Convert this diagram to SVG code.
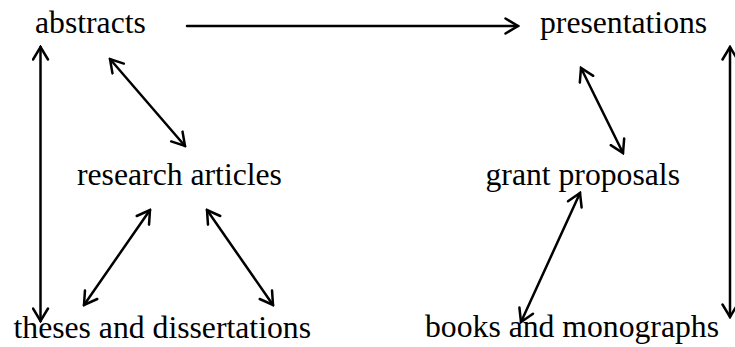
<svg xmlns="http://www.w3.org/2000/svg" width="735" height="347" viewBox="0 0 735 347">
  <style>
    .label { font-family: "Liberation Serif", "Times New Roman", serif; font-size: 31.7px; fill: #000; }
    .link { stroke: #000; stroke-width: 2.5; fill: none; stroke-linecap: round; }
  </style>
  <defs>
    <marker id="head" viewBox="-14 -9 16 18" refX="0" refY="0" markerWidth="16" markerHeight="18" markerUnits="userSpaceOnUse" orient="auto-start-reverse">
      <path d="M-12.5,-7.5 L0,0 L-12.5,7.5" fill="none" stroke="#000" stroke-width="2.5" stroke-linecap="round" stroke-linejoin="miter"/>
    </marker>
  </defs>
  <rect width="735" height="347" fill="#fff"/>

  <g id="connectors">
    <line class="link" x1="187" y1="26" x2="518" y2="26" marker-end="url(#head)"/>
    <line class="link" x1="40.5" y1="47" x2="40.5" y2="321" marker-start="url(#head)" marker-end="url(#head)"/>
    <line class="link" x1="110" y1="59" x2="185" y2="146" marker-start="url(#head)" marker-end="url(#head)"/>
    <line class="link" x1="150" y1="210" x2="84" y2="305" marker-start="url(#head)" marker-end="url(#head)"/>
    <line class="link" x1="207" y1="210" x2="273" y2="305" marker-start="url(#head)" marker-end="url(#head)"/>
    <line class="link" x1="581" y1="68" x2="623" y2="153" marker-start="url(#head)" marker-end="url(#head)"/>
    <line class="link" x1="580" y1="193" x2="521" y2="322" marker-start="url(#head)" marker-end="url(#head)"/>
    <line class="link" x1="730" y1="47" x2="730" y2="317" marker-start="url(#head)" marker-end="url(#head)"/>
  </g>

  <g id="abstracts"><text class="label" x="35" y="33">abstracts</text></g>
  <g id="presentations"><text class="label" x="540" y="33">presentations</text></g>
  <g id="research-articles"><text class="label" x="77" y="185">research articles</text></g>
  <g id="grant-proposals"><text class="label" x="485.5" y="185">grant proposals</text></g>
  <g id="theses-and-dissertations"><text class="label" x="13.5" y="338">theses and dissertations</text></g>
  <g id="books-and-monographs"><text class="label" x="425" y="337">books and monographs</text></g>
</svg>
